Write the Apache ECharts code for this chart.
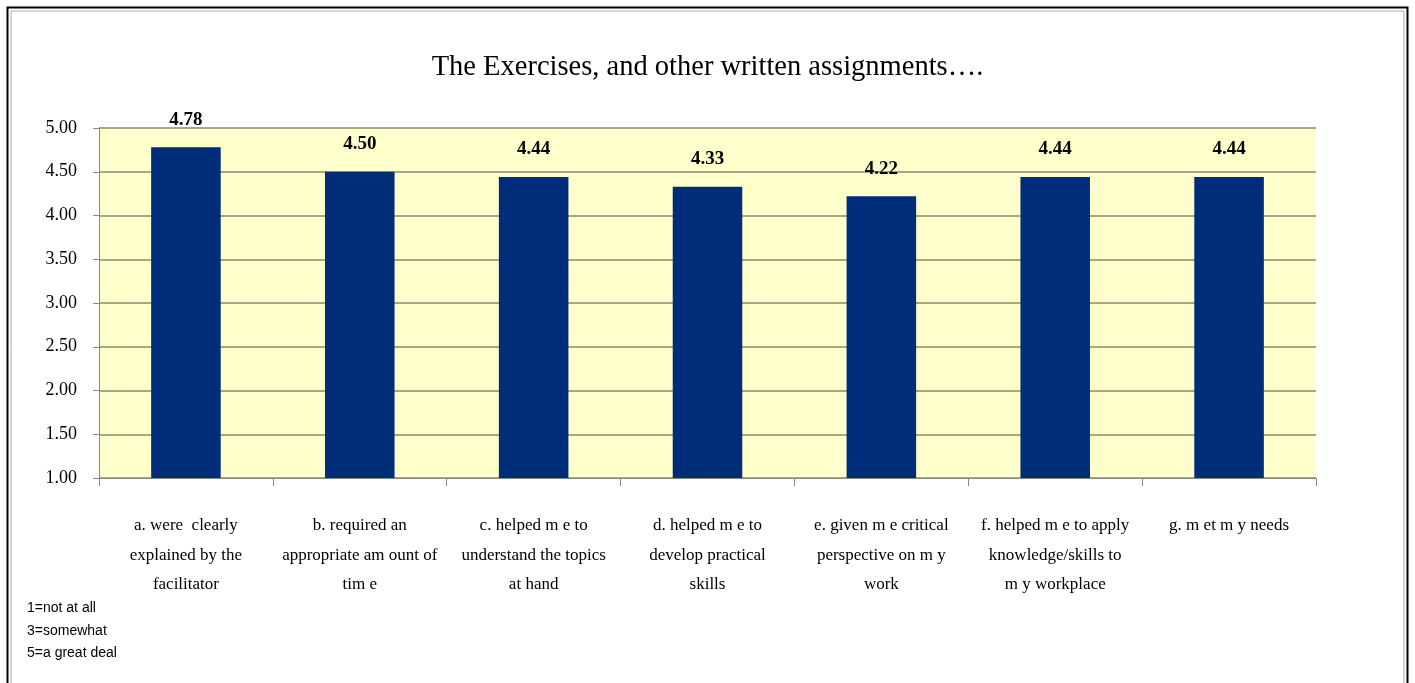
<!DOCTYPE html>
<html><head><meta charset="utf-8">
<script src="https://cdn.jsdelivr.net/npm/echarts@6/dist/echarts.min.js"></script>
<style>html,body{margin:0;padding:0;background:#fff;}#c{width:1415px;height:683px;}</style>
</head><body><div id="c"></div>
<script>
const categories = [
  "a. were  clearly\nexplained by the\nfacilitator",
  "b. required an\nappropriate am ount of\ntim e",
  "c. helped m e to\nunderstand the topics\nat hand",
  "d. helped m e to\ndevelop practical\nskills",
  "e. given m e critical\nperspective on m y\nwork",
  "f. helped m e to apply\nknowledge/skills to\nm y workplace",
  "g. m et m y needs"
];
const values = [4.78, 4.50, 4.44, 4.33, 4.22, 4.44, 4.44];
const titleText = "The Exercises, and other written assignments….";
const noteText = "1=not at all\n3=somewhat\n5=a great deal";

const chart = echarts.init(document.getElementById('c'));
chart.setOption({
  animation: false,
  backgroundColor: '#ffffff',
  title: {
    text: titleText, left: 'center', top: 48,
    textStyle: { fontFamily: 'Liberation Serif', fontSize: 28.5, fontWeight: 'normal', color: '#000' }
  },
  graphic: [
    { type: 'rect', shape: { x: 7.5, y: 7.5, width: 1400, height: 690 }, style: { fill: 'none', stroke: '#000', lineWidth: 2 } },
    { type: 'rect', shape: { x: 11, y: 11, width: 1393, height: 690 }, style: { fill: 'none', stroke: '#aaa', lineWidth: 1 } },
    { type: 'text', left: 27, top: 597, style: { text: noteText, fontFamily: 'Liberation Sans', fontSize: 14, lineHeight: 22.5, fill: '#000' } }
  ],
  grid: { left: 99, right: 99, top: 128, bottom: 205, show: true, backgroundColor: '#FFFFCC', borderWidth: 0 },
  xAxis: {
    type: 'category', data: categories,
    axisLine: { lineStyle: { color: '#888', width: 1 } },
    axisTick: { show: true, length: 8, lineStyle: { color: '#888' } },
    axisLabel: { interval: 0, margin: 33, fontFamily: 'Liberation Serif', fontSize: 17, lineHeight: 29.5, color: '#000' }
  },
  yAxis: {
    type: 'value', min: 1, max: 5, interval: 0.5,
    axisLine: { show: true, lineStyle: { color: '#888' } },
    axisTick: { show: true, length: 6, lineStyle: { color: '#888' } },
    axisLabel: { formatter: v => v.toFixed(2), margin: 22, fontFamily: 'Liberation Serif', fontSize: 18, color: '#000' },
    splitLine: { lineStyle: { color: '#8a8a6e', width: 1.5 } }
  },
  series: [{
    type: 'bar', data: values, barCategoryGap: '60%',
    itemStyle: { color: '#002D7A' },
    label: { show: true, position: 'top', distance: 18, formatter: p => p.value.toFixed(2),
      fontFamily: 'Liberation Serif', fontSize: 19, fontWeight: 'bold', color: '#000' }
  }]
});
</script></body></html>
